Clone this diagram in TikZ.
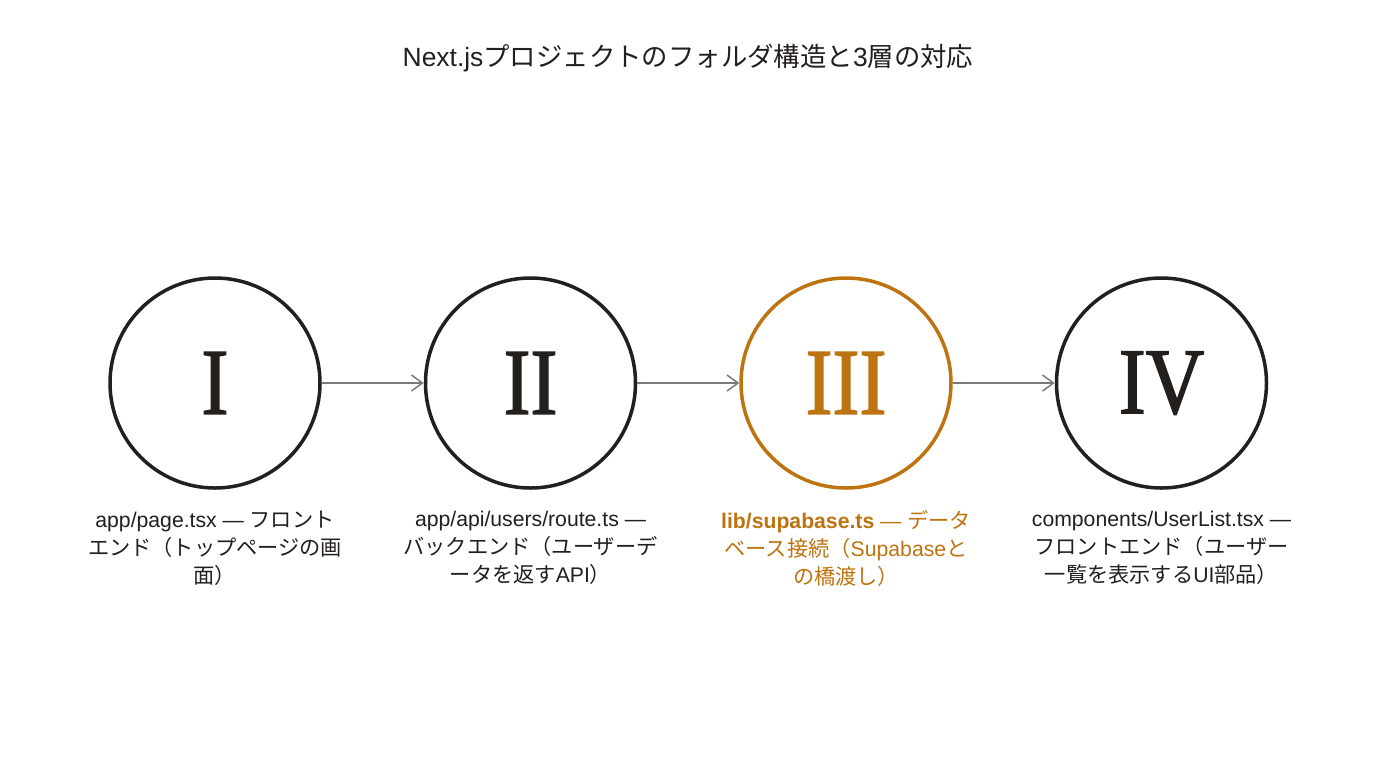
\documentclass[tikz,border=0pt]{standalone}
\usepackage{fontspec}
\setmainfont{Liberation Sans}
\newfontfamily\jp{Noto Sans CJK JP}
\newfontfamily\numfont[FakeStretch=0.86, FakeBold=1.6]{Liberation Serif}
\usetikzlibrary{arrows.meta}
\definecolor{ink}{HTML}{231F1C}
\definecolor{amber}{HTML}{BD7410}
\definecolor{wire}{HTML}{7A7A7A}

\begin{document}
\begin{tikzpicture}[x=0.5pt, y=-0.5pt, node distance=157.75pt, auto,
    layer/.style={draw=ink, circle, line width=1.75pt, minimum size=105pt, inner sep=0pt,
                  text=ink, font=\numfont\fontsize{47}{47}\selectfont},
    hot/.style={draw=amber, text=amber},
    caption/.style={align=center, text=ink, font=\fontsize{10.6}{14}\selectfont},
    flow/.style={draw=wire, line width=0.75pt, -{Straight Barb[length=5.5pt,width=8pt]}}]

    \useasboundingbox[fill=white] (0,0) rectangle (1376,768);

    % Title
    \node (title) [text=ink, font=\fontsize{13.2}{16}\selectfont] at (688,58)
        {Next.js{\jp プロジェクトのフォルダ構造と}3{\jp 層の対応}};

    % Define nodes
    \node (page) [layer] at (215,383) {I};
    \node (route) [layer, right of=page] {II};
    \node (supa) [layer, hot, right of=route] {III};
    \node (list) [layer, right of=supa] {IV};

    % Captions
    \node (pageTxt) [caption, below of=page, node distance=82.5pt]
        {app/page.tsx — {\jp フロント}\\{\jp エンド（トップページの画}\\{\jp 面）}};
    \node (routeTxt) [caption, below of=route, node distance=82.5pt]
        {app/api/users/route.ts —\\{\jp バックエンド（ユーザーデ}\\{\jp ータを返す}API{\jp ）}};
    \node (supaTxt) [caption, text=amber, below of=supa, node distance=82.5pt]
        {\textbf{lib/supabase.ts} — {\jp データ}\\{\jp ベース接続（}Supabase{\jp と}\\{\jp の橋渡し）}};
    \node (listTxt) [caption, below of=list, node distance=82.5pt]
        {components/UserList.tsx —\\{\jp フロントエンド（ユーザー}\\{\jp 一覧を表示する}UI{\jp 部品）}};

    % Draw arrows
    \draw[flow] (page) -- (route);
    \draw[flow] (route) -- (supa);
    \draw[flow] (supa) -- (list);

\end{tikzpicture}
\end{document}
